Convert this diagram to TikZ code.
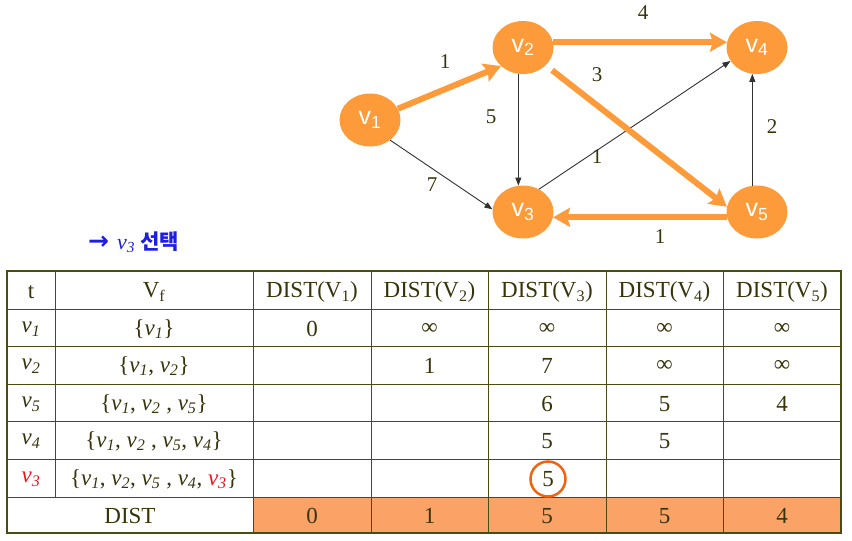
\documentclass[tikz,border=0pt]{standalone}
\usepackage{fontspec}
\setmainfont{Liberation Serif}
\newfontfamily\sansf{Liberation Sans}
\newfontfamily\krf{Noto Sans CJK KR}
\newfontfamily\dvf{DejaVu Sans}
\usetikzlibrary{shapes.geometric,arrows.meta}
\definecolor{nodeor}{RGB}{253,155,58}
\definecolor{distfill}{RGB}{251,163,102}
\definecolor{circor}{RGB}{240,100,16}
\definecolor{gridc}{RGB}{75,75,20}
\definecolor{txt}{RGB}{55,52,12}
\definecolor{edgeg}{RGB}{50,50,50}
\definecolor{selblue}{RGB}{30,30,225}
\definecolor{redv}{RGB}{235,20,30}
\newcommand{\myv}[1]{\textit{v}\textsubscript{\textit{#1}}}
\begin{document}
\begin{tikzpicture}[x=1pt,y=-1pt,
  vtx/.style={ellipse, fill=nodeor, minimum width=61pt, minimum height=53pt, inner sep=0pt, text=white, font=\sansf\fontsize{25}{25}\selectfont},
  heavy/.style={draw=nodeor, line width=6pt, -{Stealth[length=17pt,width=19pt,inset=3pt]}},
  light/.style={draw=edgeg, line width=0.9pt, -{Triangle[length=8pt,width=6pt]}},
  wlab/.style={text=txt, font=\fontsize{21}{21}\selectfont},
  cell/.style={text=txt, font=\fontsize{23}{23}\selectfont, anchor=center, inner sep=0pt},
  gridl/.style={draw=gridc, line width=1pt},
  outerl/.style={draw=gridc, line width=2pt}
]
\useasboundingbox (0,0) rectangle (852,541);

% graph nodes
\node[vtx] (v1) at (370,120) {v\textsubscript{1}};
\node[vtx] (v2) at (523,47.5) {v\textsubscript{2}};
\node[vtx] (v4) at (757,47.5) {v\textsubscript{4}};
\node[vtx] (v3) at (523,212) {v\textsubscript{3}};
\node[vtx] (v5) at (757,212) {v\textsubscript{5}};

% edges
\draw[light] (v1.-45) -- (v3.175);
\draw[light] (v2.-100) -- (v3.100);
\draw[light] (v3.55) -- (v4.207);
\draw[light] (v5.100) -- (v4.-100);
\draw[heavy] (v1.22) -- (v2.220);
\draw[heavy] (v2.10) -- (v4.170);
\draw[heavy, shorten <=8pt] (v2.-38) -- (v5.170);
\draw[heavy] (v5.190) -- (v3.-10);

% edge labels
\node[wlab] (w12) at (445,62) {1};
\node[wlab] (w24) at (643,13) {4};
\node[wlab] (w25) at (597,75) {3};
\node[wlab] (w23) at (491,117) {5};
\node[wlab] (w54) at (772,127) {2};
\node[wlab] (w34) at (597,157) {1};
\node[wlab] (w13) at (432,185) {7};
\node[wlab] (w53) at (660,237) {1};

% selection label
\node[anchor=base west, inner sep=0pt, text=selblue] (sel) at (88,249)
  {{\dvf\bfseries\fontsize{25}{25}\selectfont →}\hspace{8pt}{\fontsize{22}{22}\selectfont\myv{3}}\hspace{5pt}{\krf\bfseries\fontsize{21}{21}\selectfont 선택}};

% table
\fill[distfill] (253,497) rectangle (841,533);
\draw[gridl] (7,309) -- (841,309);
\draw[gridl] (7,346) -- (841,346);
\draw[gridl] (7,384) -- (841,384);
\draw[gridl] (7,421) -- (841,421);
\draw[gridl] (7,459) -- (841,459);
\draw[gridl] (7,497) -- (841,497);
\draw[gridl] (55,271) -- (55,497);
\draw[gridl] (253,271) -- (253,533);
\draw[gridl] (371,271) -- (371,533);
\draw[gridl] (488,271) -- (488,533);
\draw[gridl] (606,271) -- (606,533);
\draw[gridl] (723,271) -- (723,533);
\draw[outerl] (7,271) rectangle (841,533);

% header
\node[cell] (h0) at (31,292) {t};
\node[cell] (h1) at (154,292) {V\textsubscript{f}};
\node[cell] (h2) at (312,292) {DIST(V\textsubscript{1})};
\node[cell] (h3) at (429.5,292) {DIST(V\textsubscript{2})};
\node[cell] (h4) at (547,292) {DIST(V\textsubscript{3})};
\node[cell] (h5) at (664.5,292) {DIST(V\textsubscript{4})};
\node[cell] (h6) at (782,292) {DIST(V\textsubscript{5})};

% row v1
\node[cell] (r1a) at (31,329) {\myv{1}};
\node[cell] (r1b) at (154,329) {\{\myv{1}\}};
\node[cell] (r1c) at (312,329) {0};
\node[cell] (r1d) at (429.5,329) {∞};
\node[cell] (r1e) at (547,329) {∞};
\node[cell] (r1f) at (664.5,329) {∞};
\node[cell] (r1g) at (782,329) {∞};
% row v2
\node[cell] (r2a) at (31,366) {\myv{2}};
\node[cell] (r2b) at (154,366) {\{\myv{1}, \myv{2}\}};
\node[cell] (r2d) at (429.5,366) {1};
\node[cell] (r2e) at (547,366) {7};
\node[cell] (r2f) at (664.5,366) {∞};
\node[cell] (r2g) at (782,366) {∞};
% row v5
\node[cell] (r3a) at (31,404) {\myv{5}};
\node[cell] (r3b) at (154,404) {\{\myv{1}, \myv{2} , \myv{5}\}};
\node[cell] (r3e) at (547,404) {6};
\node[cell] (r3f) at (664.5,404) {5};
\node[cell] (r3g) at (782,404) {4};
% row v4
\node[cell] (r4a) at (31,441) {\myv{4}};
\node[cell] (r4b) at (154,441) {\{\myv{1}, \myv{2} , \myv{5}, \myv{4}\}};
\node[cell] (r4e) at (547,441) {5};
\node[cell] (r4f) at (664.5,441) {5};
% row v3
\node[cell, text=redv] (r5a) at (31,479) {\myv{3}};
\node[cell] (r5b) at (154,479) {\{\myv{1}, \myv{2}, \myv{5} , \myv{4}, {\color{redv}\myv{3}}\}};
\node[cell, circle, draw=circor, line width=2.5pt, minimum size=35pt] (r5e) at (548,479) {5};
% DIST row
\node[cell] (d0) at (130,516) {DIST};
\node[cell] (d1) at (312,516) {0};
\node[cell] (d2) at (429.5,516) {1};
\node[cell] (d3) at (547,516) {5};
\node[cell] (d4) at (664.5,516) {5};
\node[cell] (d5) at (782,516) {4};
\end{tikzpicture}
\end{document}
